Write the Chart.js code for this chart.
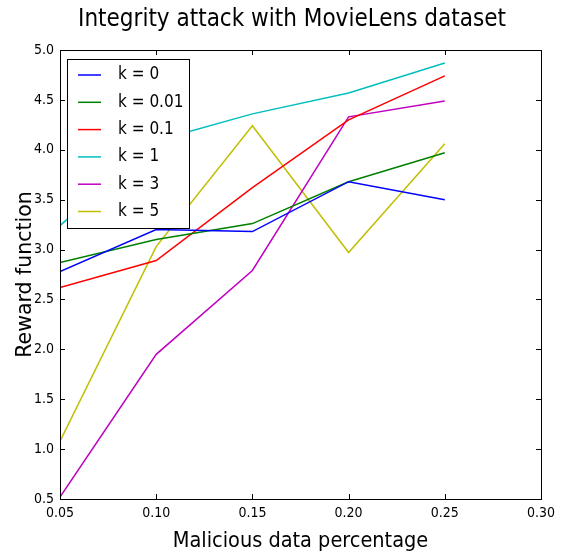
<!DOCTYPE html>
<html>
<head>
<meta charset="utf-8">
<title>Integrity attack with MovieLens dataset</title>
<script src="https://cdn.jsdelivr.net/npm/chart.js@4.4.1/dist/chart.umd.min.js"></script>
<style>
  html, body { margin: 0; padding: 0; background: #fff; }
  #wrap { width: 561px; height: 556px; }
</style>
</head>
<body>
<div id="wrap"><canvas id="chart" width="561" height="556"></canvas></div>
<script>
// ---- data ----
const X_VALUES = [0.05, 0.10, 0.15, 0.20, 0.25];
const K_LABELS = ["k = 0", "k = 0.01", "k = 0.1", "k = 1", "k = 3", "k = 5"];
const K_0    = [2.78, 3.20, 3.18, 3.68, 3.50];
const K_001  = [2.87, 3.10, 3.26, 3.68, 3.97];
const K_01   = [2.62, 2.89, 3.62, 4.30, 4.74];
const K_1    = [3.24, 4.09, 4.36, 4.57, 4.87];
const K_3    = [0.52, 1.95, 2.79, 4.33, 4.49];
const K_5    = [1.08, 3.03, 4.24, 2.97, 4.06];
const X_TICKS = [0.05, 0.10, 0.15, 0.20, 0.25, 0.30];
const Y_TICKS = [0.5, 1.0, 1.5, 2.0, 2.5, 3.0, 3.5, 4.0, 4.5, 5.0];

const TITLE   = "Integrity attack with MovieLens dataset";
const X_TITLE = "Malicious data percentage";
const Y_TITLE = "Reward function";

// matplotlib classic colours
const COLORS = ["#0000ff", "#008000", "#ff0000", "#00bfbf", "#bf00bf", "#bfbf00"];
const SERIES = [K_0, K_001, K_01, K_1, K_3, K_5];

const NARROW = "'DejaVu Sans Condensed', 'DejaVu Sans', sans-serif";
const WIDE   = "'DejaVu Sans', sans-serif";

const toPoints = (ys) => ys.map((y, i) => ({ x: X_VALUES[i], y: y }));

// frame + inward ticks on all four sides (old matplotlib look)
const framePlugin = {
  id: "frame",
  afterDraw(chart) {
    const { ctx, chartArea: a, scales } = chart;
    ctx.save();
    ctx.strokeStyle = "#000";
    ctx.lineWidth = 1;
    ctx.beginPath();
    X_TICKS.forEach(v => {
      const px = Math.round(scales.x.getPixelForValue(v)) + 0.5;
      ctx.moveTo(px, a.bottom); ctx.lineTo(px, a.bottom - 5);
      ctx.moveTo(px, a.top);    ctx.lineTo(px, a.top + 5);
    });
    Y_TICKS.forEach(v => {
      const py = Math.round(scales.y.getPixelForValue(v)) + 0.5;
      ctx.moveTo(a.left, py);  ctx.lineTo(a.left + 5, py);
      ctx.moveTo(a.right, py); ctx.lineTo(a.right - 5, py);
    });
    ctx.stroke();
    ctx.strokeRect(Math.round(a.left) + 0.5, Math.round(a.top) + 0.5,
                   Math.round(a.right - a.left), Math.round(a.bottom - a.top));
    ctx.restore();
  }
};

// chart title and axis titles, placed like the original figure
const textPlugin = {
  id: "titles",
  afterDraw(chart) {
    const { ctx, chartArea: a } = chart;
    ctx.save();
    ctx.fillStyle = "#000";
    ctx.textAlign = "center";
    ctx.textBaseline = "alphabetic";
    ctx.font = "24px " + NARROW;
    ctx.fillText(TITLE, a.left + 232, 26);
    ctx.font = "21.5px " + NARROW;
    ctx.fillText(X_TITLE, (a.left + a.right) / 2, 547);
    // y title, rotated
    ctx.translate(30.5, (a.top + a.bottom) / 2);
    ctx.rotate(-Math.PI / 2);
    ctx.font = "20.5px " + WIDE;
    ctx.fillText(Y_TITLE, 0, 0);
    ctx.restore();
  }
};

// legend box in the upper left of the plot
const legendPlugin = {
  id: "boxLegend",
  afterDraw(chart) {
    const { ctx, chartArea: a } = chart;
    const bx = a.left + 7, by = a.top + 9, bw = 122, bh = 169;
    ctx.save();
    ctx.fillStyle = "#fff";
    ctx.fillRect(bx, by, bw, bh);
    ctx.strokeStyle = "#000";
    ctx.lineWidth = 1;
    ctx.strokeRect(bx + 0.5, by + 0.5, bw, bh);
    ctx.font = "17px " + NARROW;
    ctx.textBaseline = "middle";
    ctx.textAlign = "left";
    chart.data.datasets.forEach((ds, i) => {
      const y = by + 16 + i * 27.3;
      ctx.strokeStyle = ds.borderColor;
      ctx.lineWidth = 1.5;
      ctx.beginPath();
      ctx.moveTo(bx + 11, y); ctx.lineTo(bx + 34, y);
      ctx.stroke();
      ctx.fillStyle = "#000";
      ctx.fillText(ds.label, bx + 51, y);
    });
    ctx.restore();
  }
};

new Chart(document.getElementById("chart").getContext("2d"), {
  type: "line",
  data: {
    datasets: SERIES.map((s, i) => ({
      label: K_LABELS[i],
      data: toPoints(s),
      borderColor: COLORS[i],
      backgroundColor: COLORS[i],
      borderWidth: 1.5,
      pointRadius: 0,
      tension: 0,
      fill: false
    }))
  },
  options: {
    responsive: false,
    animation: false,
    layout: { padding: { left: 0, right: 19, top: 50, bottom: 0 } },
    plugins: {
      legend: { display: false },
      tooltip: { enabled: false },
      title: { display: false }
    },
    scales: {
      x: {
        type: "linear",
        min: 0.05, max: 0.30,
        afterBuildTicks: (s) => { s.ticks = X_TICKS.map(v => ({ value: v })); },
        afterFit: (s) => { s.height = 57; },
        grid: { display: false, drawTicks: false },
        border: { display: false },
        ticks: {
          color: "#000", padding: 6,
          font: { family: NARROW, size: 14 },
          maxRotation: 0,
          callback: (v) => Number(v).toFixed(2)
        }
      },
      y: {
        type: "linear",
        min: 0.5, max: 5.0,
        afterBuildTicks: (s) => { s.ticks = Y_TICKS.map(v => ({ value: v })); },
        afterFit: (s) => { s.width = 60; },
        grid: { display: false, drawTicks: false },
        border: { display: false },
        ticks: {
          color: "#000", padding: 6,
          font: { family: NARROW, size: 14 },
          callback: (v) => Number(v).toFixed(1)
        }
      }
    }
  },
  plugins: [framePlugin, textPlugin, legendPlugin]
});
</script>
</body>
</html>
